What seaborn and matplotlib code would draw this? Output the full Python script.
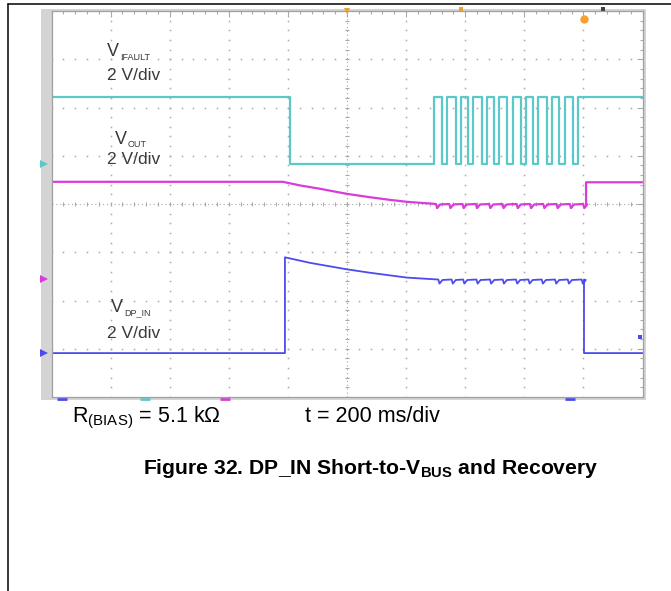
#!/usr/bin/env python3
"""Scope capture: DP_IN short-to-VBUS and recovery (three channels, 2 V/div)."""

import matplotlib

matplotlib.use("Agg")

import matplotlib.pyplot as plt
import numpy as np
import pandas as pd
import seaborn as sns
from matplotlib.lines import Line2D
from matplotlib.patches import Rectangle

W, H = 671, 591

# time base: ms relative to trigger, 200 ms/div over 10 div
TIME_RANGE_MS = (-1000, 1000)
MS_PER_DIV = 200
VOLTS_PER_DIV = 2.0

# channel ground markers, in screen divisions from centre
VFAULT_GROUND_DIV = 0.83
VOUT_GROUND_DIV = -1.55
VDP_GROUND_DIV = -3.09

# VFAULT (cyan): goes low at the fault, then retry pulses, then released
VFAULT_HIGH_V = 2.78
VFAULT_FALL_MS = -193
VFAULT_RISE_MS = [295, 339, 385, 427, 473, 515, 561, 606, 647, 693, 738, 783]
VFAULT_REFALL_MS = [322, 368, 410, 456, 497, 542, 588, 630, 676, 718, 764]

# VOUT (magenta)
VOUT_T_MS = [-1000, -217, -159, -91, 0, 78, 146, 203, 281]
VOUT_V = [4.02, 4.02, 3.87, 3.73, 3.52, 3.38, 3.27, 3.19, 3.12]
VOUT_RIPPLE_BASE_V = 3.10
VOUT_DIP_MS = [301, 346, 391, 436, 481, 526, 574, 619, 664, 709, 754, 799]
VOUT_RECOVER_MS = 809
VOUT_RECOVER_V = 4.0

# VDP_IN (blue)
VDP_T_MS = [-1000, -210, -210, -125, 1, 78, 202, 281]
VDP_V = [0.0, 0.0, 3.97, 3.74, 3.47, 3.33, 3.13, 3.07]
VDP_RIPPLE_BASE_V = 3.05
VDP_DIP_MS = [309, 354, 393, 438, 484, 527, 572, 614, 659, 704, 747, 794]
VDP_RELEASE_MS = 802
VDP_RELEASE_V = 0.0

# shape of one retry dip (offset ms, offset V)
DIP_SHAPE_MS = [0, 4, 14]
DIP_SHAPE_DV = [0.0, -0.17, -0.02]

CYAN = "#5cc9c9"
MAGENTA = "#d93cd9"
BLUE = "#4b4bf0"
TEXT = "#3a3a3a"
GRID = "#a9a9a9"


def px(x, y):
    return x / W, 1 - y / H


def vfault_trace():
    t = [TIME_RANGE_MS[0], VFAULT_FALL_MS, VFAULT_FALL_MS]
    v = [VFAULT_HIGH_V, VFAULT_HIGH_V, 0.0]
    for rise, fall in zip(VFAULT_RISE_MS, VFAULT_REFALL_MS):
        t += [rise, rise, fall, fall]
        v += [0.0, VFAULT_HIGH_V, VFAULT_HIGH_V, 0.0]
    t += [VFAULT_RISE_MS[-1], VFAULT_RISE_MS[-1], TIME_RANGE_MS[1]]
    v += [0.0, VFAULT_HIGH_V, VFAULT_HIGH_V]
    return t, v


def rippled_trace(t0, v0, base, dips, end_ms, end_v):
    t, v = list(t0), list(v0)
    for d in dips:
        for dt, dv in zip(DIP_SHAPE_MS, DIP_SHAPE_DV):
            t.append(d + dt)
            v.append(base + dv)
    t += [end_ms, end_ms, TIME_RANGE_MS[1]]
    v += [base, end_v, end_v]
    return t, v


def to_frame(t, v, ground, name):
    return pd.DataFrame(
        {"t": t, "div": ground + np.asarray(v) / VOLTS_PER_DIV, "ch": name}
    )


sns.set_style("white")
plt.rcParams["font.family"] = ["Liberation Sans", "DejaVu Sans"]
plt.rcParams["mathtext.fontset"] = "custom"
plt.rcParams["mathtext.rm"] = "Liberation Sans"
plt.rcParams["mathtext.bf"] = "Liberation Sans:bold"

fig = plt.figure(figsize=(W / 100, H / 100), dpi=100)

# page frame lines and the scope bezel
fig.add_artist(Line2D([8 / W, 1], [1 - 3.5 / H] * 2, color="black", lw=1.1))
fig.add_artist(Line2D([8 / W] * 2, [1 - 3.5 / H, 0], color="black", lw=1.1))
fig.add_artist(
    Rectangle(px(41, 400), 605 / W, 391 / H, transform=fig.transFigure,
              facecolor="#d4d4d4", edgecolor="none", zorder=-1)
)

ax = fig.add_axes([51.5 / W, 1 - 397 / H, 591 / W, 386 / H])
ax.set_facecolor("white")
ax.set_xlim(*TIME_RANGE_MS)
ax.set_ylim(-4, 4)

# graticule: dotted divisions, ticked centre lines
major_x = np.arange(TIME_RANGE_MS[0] + MS_PER_DIV, TIME_RANGE_MS[1], MS_PER_DIV)
minor_x = np.arange(TIME_RANGE_MS[0], TIME_RANGE_MS[1] + 1, MS_PER_DIV / 5)
major_y = np.arange(-3, 4)
minor_y = np.arange(-4, 4.01, 0.2)
for y in major_y:
    if y == 0:
        continue
    ax.plot(minor_x, np.full_like(minor_x, y, dtype=float), ls="none",
            marker="s", ms=1.1, color=GRID, mew=0)
for x in major_x:
    if x == 0:
        continue
    ax.plot(np.full_like(minor_y, x), minor_y, ls="none",
            marker="s", ms=1.1, color=GRID, mew=0)
ax.axhline(0, color=GRID, lw=0.8, ls=(0, (1, 2.5)))
ax.axvline(0, color=GRID, lw=0.8, ls=(0, (1, 2.5)))
ax.plot(minor_x, np.zeros_like(minor_x), ls="none", marker="|", ms=3.5,
        color=GRID, mew=0.8)
ax.plot(np.zeros_like(minor_y), minor_y, ls="none", marker="_", ms=3.5,
        color=GRID, mew=0.8)

ax.set_xticks(major_x)
ax.set_xticks(minor_x, minor=True)
ax.set_yticks(major_y)
ax.set_yticks(minor_y, minor=True)
ax.tick_params(which="both", direction="in", top=True, right=True,
               labelleft=False, labelbottom=False, color=GRID)
ax.tick_params(which="major", length=4, width=0.8)
ax.tick_params(which="minor", length=2.5, width=0.8)
for spine in ax.spines.values():
    spine.set_color("#a0a0a0")
    spine.set_linewidth(0.9)

# traces
fault = to_frame(*vfault_trace(), VFAULT_GROUND_DIV, "VFAULT")
vout = to_frame(
    *rippled_trace(VOUT_T_MS, VOUT_V, VOUT_RIPPLE_BASE_V, VOUT_DIP_MS,
                   VOUT_RECOVER_MS, VOUT_RECOVER_V),
    VOUT_GROUND_DIV, "VOUT",
)
vdp = to_frame(
    *rippled_trace(VDP_T_MS, VDP_V, VDP_RIPPLE_BASE_V, VDP_DIP_MS,
                   VDP_RELEASE_MS, VDP_RELEASE_V),
    VDP_GROUND_DIV, "VDP_IN",
)
for frame, color, lw in [(fault, CYAN, 1.6), (vout, MAGENTA, 1.6), (vdp, BLUE, 1.3)]:
    sns.lineplot(data=frame, x="t", y="div", sort=False, estimator=None,
                 color=color, lw=lw, ax=ax)
ax.set_xlabel("")
ax.set_ylabel("")

# channel ground markers on the bezel
ytr = ax.get_yaxis_transform()
for ground, color in [(VFAULT_GROUND_DIV, CYAN), (VOUT_GROUND_DIV, MAGENTA),
                      (VDP_GROUND_DIV, BLUE)]:
    ax.plot([-0.012], [ground], marker=">", ms=6, color=color, mew=0,
            transform=ytr, clip_on=False)

# trigger / cursor markers
xtr = ax.get_xaxis_transform()
ax.plot([0], [1.0], marker="v", ms=5, color="#f0a030", mew=0, transform=xtr,
        clip_on=False)
ax.plot([386], [1.006], marker="s", ms=2.5, color="#f0a030", mew=0,
        transform=xtr, clip_on=False)
ax.plot([866], [1.006], marker="s", ms=2.5, color="#404040", mew=0,
        transform=xtr, clip_on=False)
ax.plot([802], [3.83], marker="o", ms=6, color="#f5a030", mew=0, clip_on=False)
ax.plot([992], [-2.76], marker="s", ms=2.5, color=BLUE, mew=0, clip_on=False)
for x, color in [(-964, BLUE), (-684, CYAN), (-413, MAGENTA), (755, BLUE)]:
    ax.plot([x], [-0.006], marker="_", ms=7, mew=2, color=color,
            transform=xtr, clip_on=False)

# channel labels
for (vx, vy), sub, (sx, sy), (dx, dy) in [
    ((107, 52), "IFAULT", (120, 57), (107, 75)),
    ((115, 139), "OUT", (128, 144), (107, 160)),
    ((111, 308), "DP_IN", (124, 313), (107, 333)),
]:
    fig.text(*px(vx, vy), "V", fontsize=13, color=TEXT, va="center")
    fig.text(*px(sx, sy), sub, fontsize=6.5, color=TEXT, va="center")
    fig.text(*px(dx, dy), "2 V/div", fontsize=12.5, color=TEXT, va="center")

fig.text(*px(72, 422), r"R$_{\mathrm{(BIAS)}}$ = 5.1 kΩ", fontsize=15.5,
         color="black", va="baseline")
fig.text(*px(305, 422), "t = 200 ms/div", fontsize=15.5, color="black",
         va="baseline")
fig.text(*px(371, 474),
         r"Figure 32. DP_IN Short-to-V$_{\mathbf{BUS}}$ and Recovery",
         fontsize=15.2, fontweight="bold", color="black", ha="center",
         va="baseline")

fig.savefig("out.png", dpi=100)
